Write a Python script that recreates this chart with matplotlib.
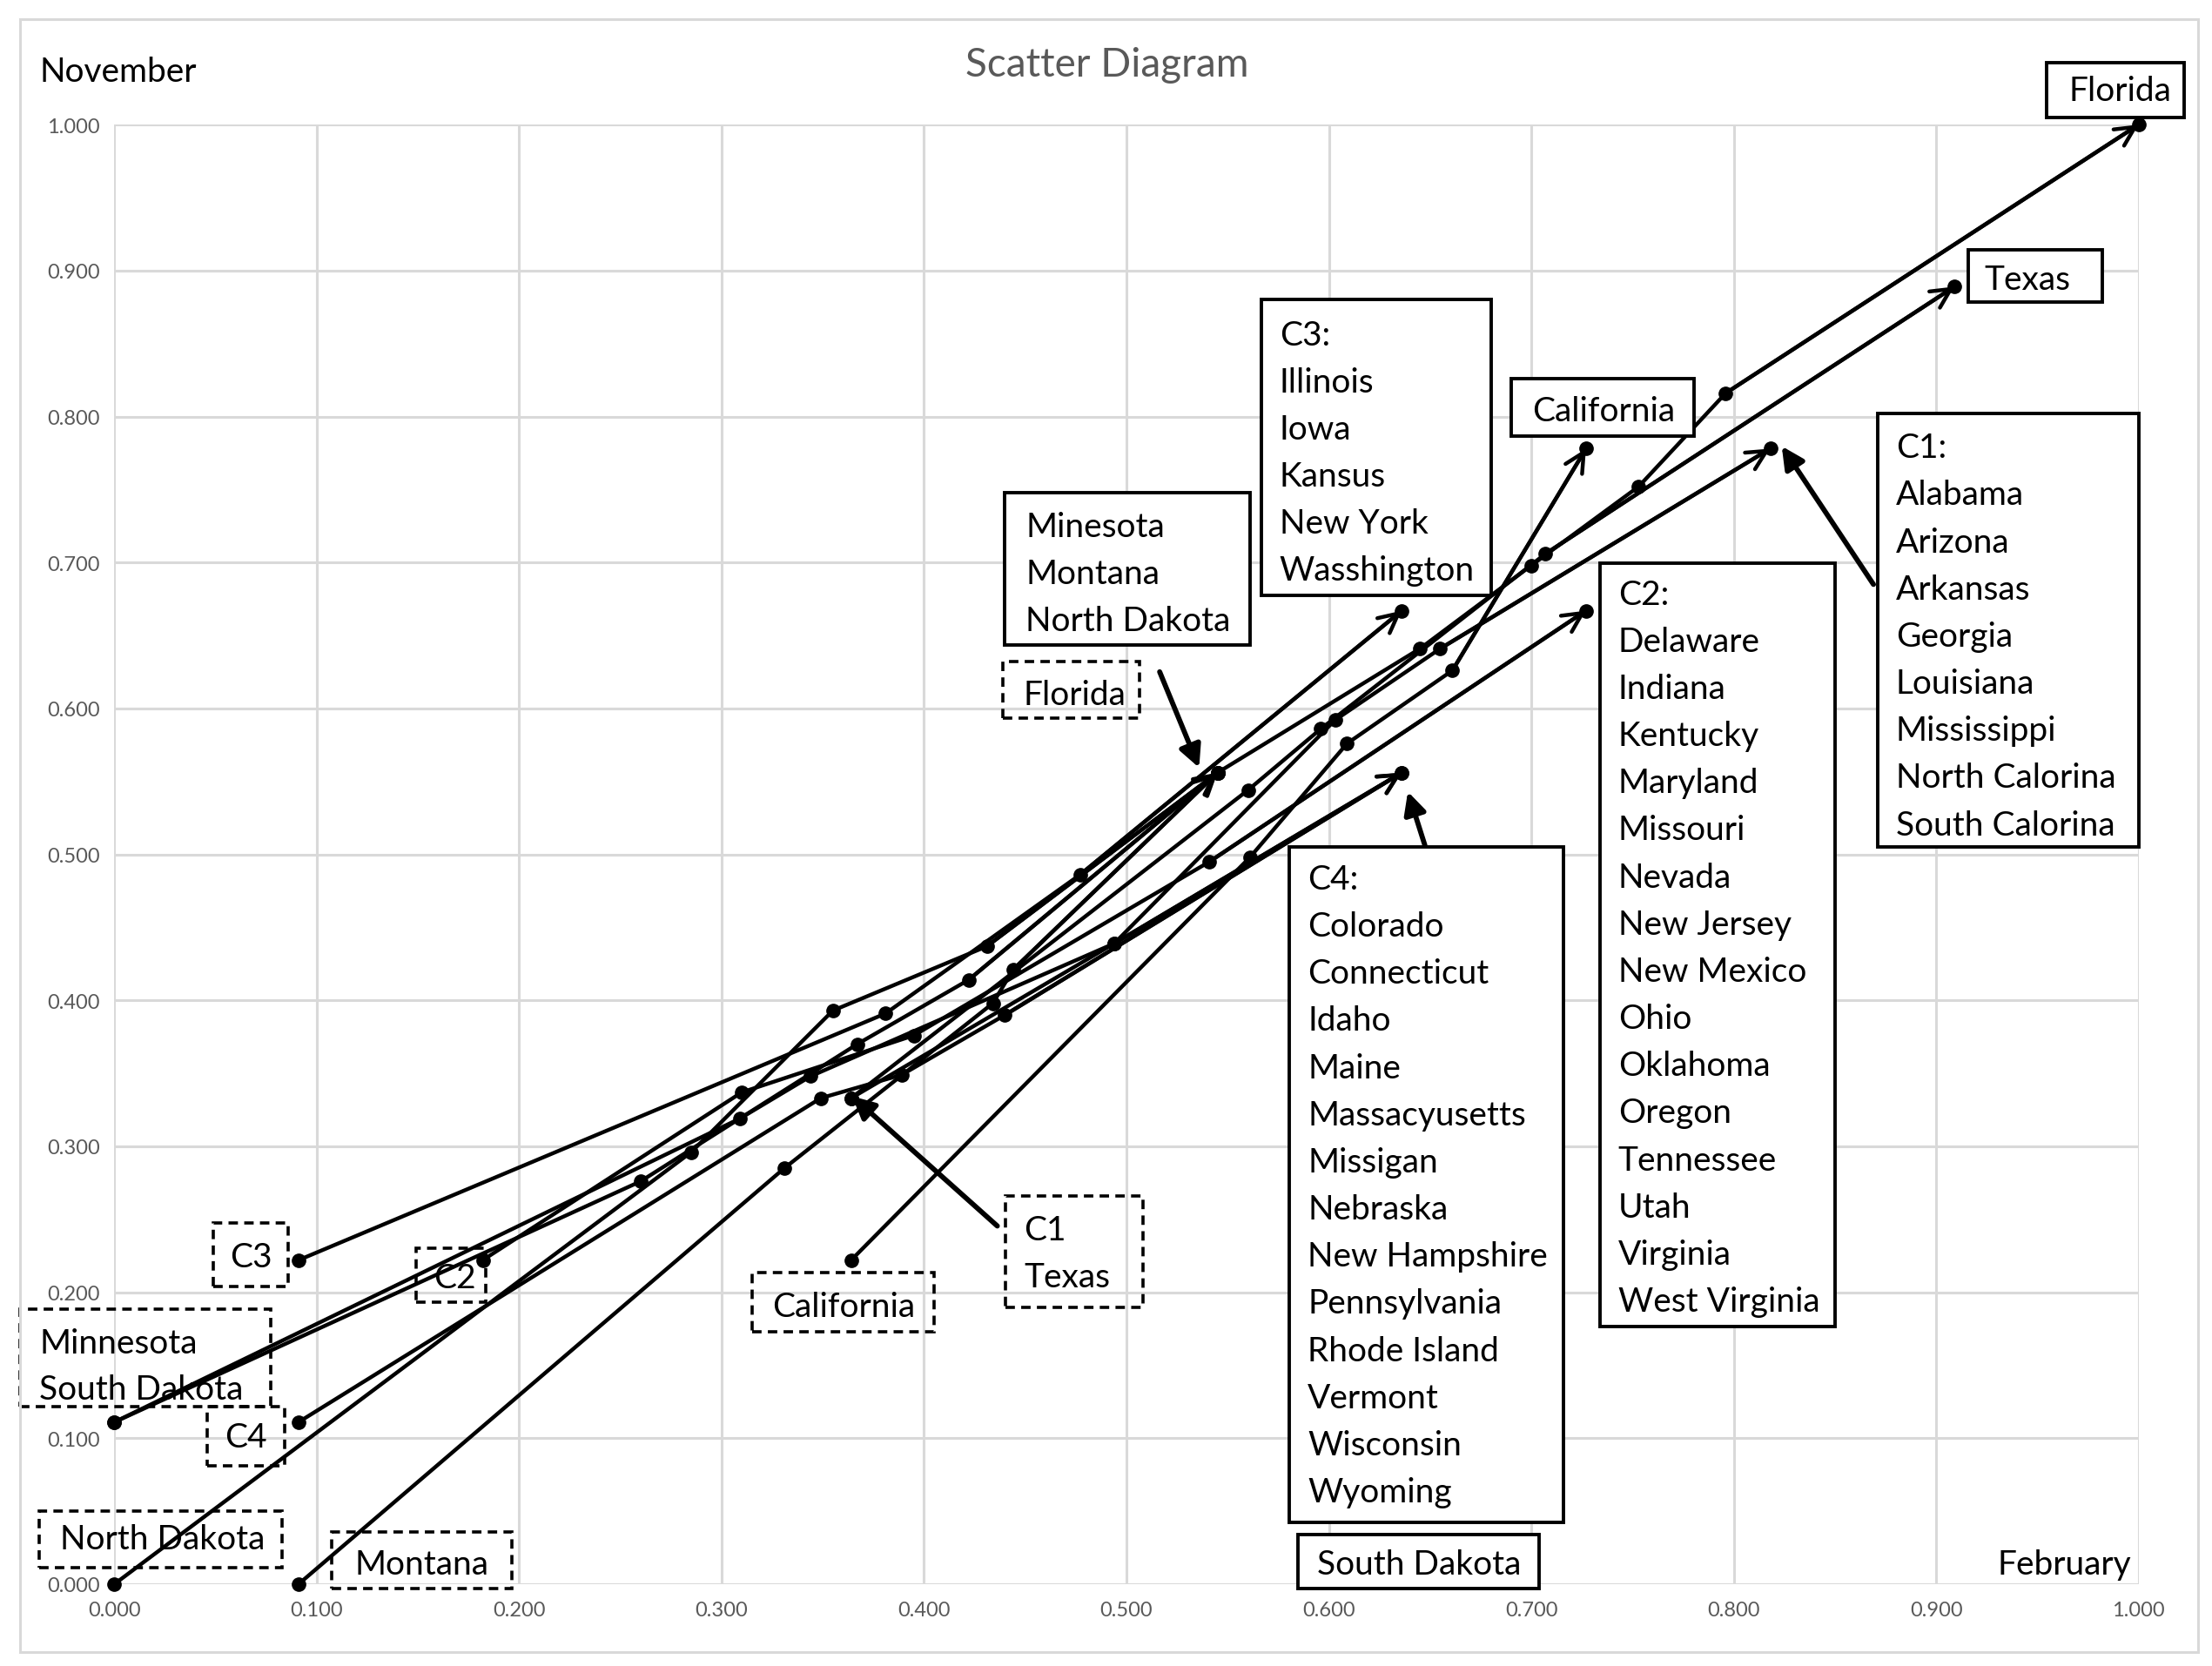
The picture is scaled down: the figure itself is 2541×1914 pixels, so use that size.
import matplotlib
matplotlib.use("Agg")
import matplotlib.pyplot as plt
from matplotlib.patches import Rectangle
from matplotlib.ticker import FormatStrFormatter

plt.rcParams['font.family'] = ['Lato', 'DejaVu Sans']

# trajectories: x = February, y = November (start -> end)
c3_feb = [0.091, 0.381, 0.477, 0.636]
c3_nov = [0.222, 0.391, 0.486, 0.667]
c2_feb = [0.182, 0.310, 0.395, 0.541, 0.727]
c2_nov = [0.222, 0.337, 0.376, 0.495, 0.667]
mn_feb = [0.000, 0.260, 0.367, 0.422, 0.545]
mn_nov = [0.111, 0.276, 0.370, 0.414, 0.556]
sd_feb = [0.000, 0.309, 0.344, 0.494, 0.636]
sd_nov = [0.111, 0.319, 0.348, 0.439, 0.556]
c4_feb = [0.091, 0.349, 0.389, 0.440, 0.636]
c4_nov = [0.111, 0.333, 0.349, 0.390, 0.556]
nd_feb = [0.000, 0.285, 0.355, 0.431, 0.545]
nd_nov = [0.000, 0.296, 0.393, 0.437, 0.556]
mt_feb = [0.091, 0.331, 0.434, 0.444, 0.545]
mt_nov = [0.000, 0.285, 0.398, 0.421, 0.556]
ca_feb = [0.364, 0.561, 0.609, 0.661, 0.727]
ca_nov = [0.222, 0.498, 0.576, 0.626, 0.778]
c1_feb = [0.364, 0.494, 0.603, 0.655, 0.818]
c1_nov = [0.333, 0.439, 0.592, 0.641, 0.778]
tx_feb = [0.364, 0.560, 0.596, 0.707, 0.909]
tx_nov = [0.333, 0.544, 0.586, 0.706, 0.889]
fl_feb = [0.545, 0.645, 0.700, 0.753, 0.796, 1.000]
fl_nov = [0.556, 0.641, 0.698, 0.752, 0.816, 1.000]

series = [(c3_feb, c3_nov), (c2_feb, c2_nov), (mn_feb, mn_nov), (sd_feb, sd_nov),
          (c4_feb, c4_nov), (nd_feb, nd_nov), (mt_feb, mt_nov), (ca_feb, ca_nov),
          (c1_feb, c1_nov), (tx_feb, tx_nov), (fl_feb, fl_nov)]

c1_states = ["C1:", "Alabama", "Arizona", "Arkansas", "Georgia", "Louisiana",
             "Mississippi", "North Calorina", "South Calorina"]
c2_states = ["C2:", "Delaware", "Indiana", "Kentucky", "Maryland", "Missouri", "Nevada",
             "New Jersey", "New Mexico", "Ohio", "Oklahoma", "Oregon", "Tennessee",
             "Utah", "Virginia", "West Virginia"]
c3_states = ["C3:", "Illinois", "Iowa", "Kansus", "New York", "Wasshington"]
c4_states = ["C4:", "Colorado", "Connecticut", "Idaho", "Maine", "Massacyusetts",
             "Missigan", "Nebraska", "New Hampshire", "Pennsylvania", "Rhode Island",
             "Vermont", "Wisconsin", "Wyoming"]
mmn_states = ["Minesota", "Montana", "North Dakota"]

FS = 28
LINE = 0.0323

fig = plt.figure(figsize=(25.41, 19.15), dpi=100)
ax = fig.add_axes([0.05166, 0.0491, 0.91518, 0.8756])
ax.set_xlim(0, 1)
ax.set_ylim(0, 1)
ax.set_xticks([i / 10 for i in range(11)])
ax.set_yticks([i / 10 for i in range(11)])
ax.xaxis.set_major_formatter(FormatStrFormatter('%.3f'))
ax.yaxis.set_major_formatter(FormatStrFormatter('%.3f'))
ax.tick_params(length=0, labelsize=17, labelcolor='#595959')
ax.tick_params(axis='x', pad=14)
ax.tick_params(axis='y', pad=12)
ax.grid(True, color='#d9d9d9', lw=2.2)
ax.set_axisbelow(True)
for s in ax.spines.values():
    s.set_visible(False)

# trajectories
for fx, ny in series:
    ax.plot(fx, ny, color='black', lw=3.2, marker='o', ms=11, zorder=3, clip_on=False)
    ax.annotate('', xy=(fx[-1], ny[-1]), xytext=(fx[-2], ny[-2]),
                arrowprops=dict(arrowstyle='->', lw=3.2, color='black',
                                mutation_scale=40, shrinkA=0, shrinkB=0), zorder=3)


def box(x0, y0, x1, y1, dashed):
    ax.add_patch(Rectangle((x0, y0), x1 - x0, y1 - y0, fill=not dashed, fc='white',
                           ec='black', lw=2.8 if not dashed else 2.6,
                           ls=(0, (3, 2)) if dashed else '-', zorder=4 if not dashed else 2,
                           clip_on=False))


def label(x, y, s, ha='center'):
    ax.text(x, y, s, fontsize=FS, ha=ha, va='center', zorder=5, clip_on=False)


def listing(x0, y0, x1, y1, tx, ty, names):
    box(x0, y0, x1, y1, False)
    for k, nm in enumerate(names):
        label(tx, ty - k * LINE, nm, ha='left')


# start labels (dashed)
box(0.0488, 0.2039, 0.0857, 0.2473, True); label(0.0676, 0.2242, "C3")
box(0.1491, 0.1932, 0.1833, 0.2300, True); label(0.168, 0.2097, "C2")
box(-0.0467, 0.1217, 0.0774, 0.1884, True)
label(-0.0369, 0.1652, "Minnesota", ha='left'); label(-0.0369, 0.1333, "South Dakota", ha='left')
box(0.046, 0.0812, 0.0843, 0.1217, True); label(0.0648, 0.1005, "C4")
box(-0.0369, 0.0116, 0.0829, 0.0502, True); label(0.0237, 0.0309, "North Dakota")
box(0.1073, -0.0029, 0.1965, 0.0357, True); label(0.1519, 0.0135, "Montana")
box(0.315, 0.1729, 0.4049, 0.2135, True); label(0.3603, 0.1903, "California")
box(0.4404, 0.1894, 0.508, 0.2657, True)
label(0.4495, 0.2425, "C1", ha='left'); label(0.4495, 0.2106, "Texas", ha='left')
box(0.439, 0.5932, 0.5066, 0.6319, True); label(0.4746, 0.6097, "Florida")

# end labels (solid)
box(0.9547, 1.0048, 1.0223, 1.0425, False); label(0.991, 1.0232, "Florida")
box(0.9157, 0.8783, 0.9819, 0.914, False); label(0.945, 0.8937, "Texas")
box(0.6899, 0.7865, 0.7805, 0.8261, False); label(0.7359, 0.8039, "California")
box(0.5847, -0.0029, 0.7038, 0.0338, False); label(0.6446, 0.0135, "South Dakota")
listing(0.5666, 0.6773, 0.6801, 0.8802, 0.5756, 0.856, c3_states)
listing(0.4397, 0.6435, 0.561, 0.7478, 0.4502, 0.7246, mmn_states)
listing(0.7338, 0.1768, 0.8502, 0.6995, 0.7429, 0.6783, c2_states)
listing(0.8711, 0.5053, 1.0, 0.8019, 0.8801, 0.7787, c1_states)
listing(0.5805, 0.0425, 0.7157, 0.5053, 0.5895, 0.4831, c4_states)

# callout arrows
callouts = [((0.5164, 0.6251), (0.5359, 0.5594)),
            ((0.869, 0.685), (0.8237, 0.7797)),
            ((0.6474, 0.5063), (0.639, 0.543)),
            ((0.4362, 0.2454), (0.3645, 0.3343))]
for (sx, sy), (ex, ey) in callouts:
    ax.annotate('', xy=(ex, ey), xytext=(sx, sy),
                arrowprops=dict(arrowstyle='-|>', lw=4.2, color='black',
                                mutation_scale=38, shrinkA=0, shrinkB=0), zorder=6)

# axis names and title
label(-0.0369, 1.0367, "November", ha='left')
ax.text(0.9965, 0.0135, "February", fontsize=FS, ha='right', va='center')
fig.text(0.5006, 0.961, "Scatter Diagram", fontsize=33, color='#595959', ha='center', va='center')

fig.add_artist(Rectangle((0.0089, 0.0085), 0.9847, 0.9795, transform=fig.transFigure,
                         fill=False, ec='#d9d9d9', lw=2.2))

fig.savefig("out.png", dpi=100)
